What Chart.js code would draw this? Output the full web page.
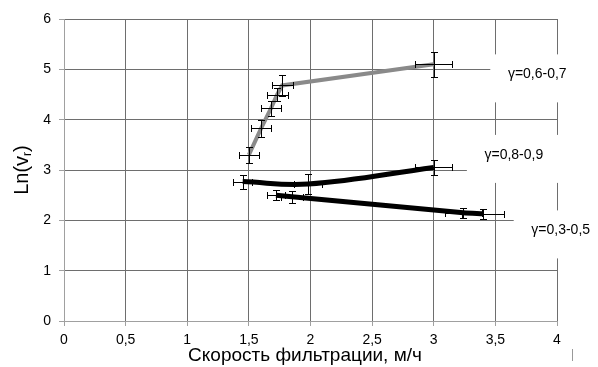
<!DOCTYPE html>
<html>
<head>
<meta charset="utf-8">
<script src="https://cdn.jsdelivr.net/npm/chart.js@4.4.0/dist/chart.umd.min.js"></script>
<style>
  body { margin: 0; background: #fff; }
  #wrap { width: 598px; height: 367px; position: relative; }
</style>
</head>
<body>
<div id="wrap"><canvas id="chart"></canvas></div>
<script>
// γ=0,6-0,7 (gray)
const grayX = [1.5, 1.6, 1.68, 1.73, 1.77, 3.0];
const grayY = [3.3, 3.83, 4.23, 4.5, 4.68, 5.1];
const grayXErr = [0.08, 0.08, 0.08, 0.085, 0.085, 0.15];
const grayYErr = [0.16, 0.17, 0.15, 0.13, 0.2, 0.25];

// γ=0,8-0,9
const midX = [1.45, 1.98, 3.0];
const midY = [2.77, 2.72, 3.05];
const midXErr = [0.075, 0.11, 0.15];
const midYErr = [0.14, 0.2, 0.15];

// γ=0,3-0,5
const lowX = [1.72, 1.85, 3.24, 3.4];
const lowY = [2.5, 2.47, 2.15, 2.13];
const lowXErr = [0.075, 0.09, 0.15, 0.17];
const lowYErr = [0.1, 0.12, 0.1, 0.1];

const seriesLabels = ['γ=0,6-0,7', 'γ=0,8-0,9', 'γ=0,3-0,5'];
const xTitle = 'Скорость фильтрации, м/ч';

const FONT = '"Liberation Sans", Arial, sans-serif';

function pts(xs, ys) {
  return xs.map((x, i) => ({x: x, y: ys[i]}));
}

const errors = [
  {xs: grayX, ys: grayY, ex: grayXErr, ey: grayYErr},
  {xs: midX, ys: midY, ex: midXErr, ey: midYErr},
  {xs: lowX, ys: lowY, ex: lowXErr, ey: lowYErr}
];

// label anchors in data units + white box around each
const labelSpots = [
  {x: 3.84, y: 4.9},
  {x: 3.65, y: 3.3},
  {x: 4.03, y: 1.8}
];

const extrasPlugin = {
  id: 'extras',
  afterDatasetsDraw(chart) {
    const ctx = chart.ctx;
    const xs = chart.scales.x, ys = chart.scales.y;
    ctx.save();
    // error bars
    ctx.strokeStyle = '#000';
    ctx.lineWidth = 1;
    const cap = 3.5;
    errors.forEach(s => {
      s.xs.forEach((x, i) => {
        const px = Math.round(xs.getPixelForValue(x)) + 0.5;
        const py = Math.round(ys.getPixelForValue(s.ys[i])) + 0.5;
        const x1 = Math.round(xs.getPixelForValue(x - s.ex[i])) + 0.5;
        const x2 = Math.round(xs.getPixelForValue(x + s.ex[i])) + 0.5;
        const y1 = Math.round(ys.getPixelForValue(s.ys[i] + s.ey[i])) + 0.5;
        const y2 = Math.round(ys.getPixelForValue(s.ys[i] - s.ey[i])) + 0.5;
        ctx.beginPath();
        ctx.moveTo(x1, py); ctx.lineTo(x2, py);
        ctx.moveTo(x1, py - cap); ctx.lineTo(x1, py + cap);
        ctx.moveTo(x2, py - cap); ctx.lineTo(x2, py + cap);
        ctx.moveTo(px, y1); ctx.lineTo(px, y2);
        ctx.moveTo(px - cap, y1); ctx.lineTo(px + cap, y1);
        ctx.moveTo(px - cap, y2); ctx.lineTo(px + cap, y2);
        ctx.stroke();
      });
    });
    // series labels on white boxes
    ctx.font = '14px ' + FONT;
    ctx.textAlign = 'center';
    ctx.textBaseline = 'middle';
    labelSpots.forEach((p, i) => {
      const cx = xs.getPixelForValue(p.x);
      const cy = ys.getPixelForValue(p.y);
      ctx.fillStyle = '#fff';
      ctx.fillRect(cx - 47, cy - 20, 93, 48);
      ctx.fillStyle = '#000';
      ctx.fillText(seriesLabels[i], cx, cy);
    });
    // stray mark under the plot
    ctx.strokeStyle = '#999';
    ctx.beginPath();
    ctx.moveTo(572.5, 349); ctx.lineTo(572.5, 361);
    ctx.stroke();
    // axis titles
    ctx.fillStyle = '#000';
    ctx.font = '19px ' + FONT;
    ctx.textAlign = 'center';
    ctx.textBaseline = 'middle';
    ctx.fillText(xTitle, 305, 356);
    ctx.translate(22, 170);
    ctx.rotate(-Math.PI / 2);
    const main = 'Ln(v', sub = 'r', tail = ')';
    ctx.font = '20px ' + FONT;
    const w1 = ctx.measureText(main).width;
    const w3 = ctx.measureText(tail).width;
    ctx.font = '12px ' + FONT;
    const w2 = ctx.measureText(sub).width;
    let x0 = -(w1 + w2 + w3) / 2;
    ctx.textAlign = 'left';
    ctx.font = '20px ' + FONT;
    ctx.fillText(main, x0, 0);
    ctx.font = '12px ' + FONT;
    ctx.fillText(sub, x0 + w1, 6);
    ctx.font = '20px ' + FONT;
    ctx.fillText(tail, x0 + w1 + w2, 0);
    ctx.restore();
  }
};

new Chart(document.getElementById('chart'), {
  type: 'scatter',
  data: {
    datasets: [
      {
        label: seriesLabels[0],
        data: pts(grayX, grayY),
        showLine: true,
        borderColor: '#8a8a8a',
        borderWidth: 4,
        pointRadius: 0,
        tension: 0
      },
      {
        label: seriesLabels[1],
        data: pts(midX, midY),
        showLine: true,
        borderColor: '#000',
        borderWidth: 5,
        pointRadius: 0,
        tension: 0.4
      },
      {
        label: seriesLabels[2],
        data: pts(lowX, lowY),
        showLine: true,
        borderColor: '#000',
        borderWidth: 5,
        pointRadius: 0,
        tension: 0.3
      }
    ]
  },
  options: {
    responsive: true,
    maintainAspectRatio: false,
    animation: false,
    layout: { padding: { top: 19, right: 41, left: 0, bottom: 0 } },
    plugins: {
      legend: { display: false },
      tooltip: { enabled: false }
    },
    scales: {
      x: {
        type: 'linear',
        min: 0,
        max: 4,
        afterFit: s => { s.height = 46; },
        ticks: {
          stepSize: 0.5,
          padding: 6,
          color: '#000',
          font: { family: FONT, size: 14 },
          callback: v => String(v).replace('.', ',')
        },
        grid: { color: '#6e6e6e', tickColor: '#a0a0a0', tickLength: 5 },
        border: { color: '#a0a0a0' }
      },
      y: {
        min: 0,
        max: 6,
        afterFit: s => { s.width = 64; },
        ticks: {
          stepSize: 1,
          padding: 8,
          color: '#000',
          font: { family: FONT, size: 14 }
        },
        grid: { color: '#6e6e6e', tickColor: '#a0a0a0', tickLength: 5 },
        border: { color: '#a0a0a0' }
      }
    }
  },
  plugins: [extrasPlugin]
});
</script>
</body>
</html>
